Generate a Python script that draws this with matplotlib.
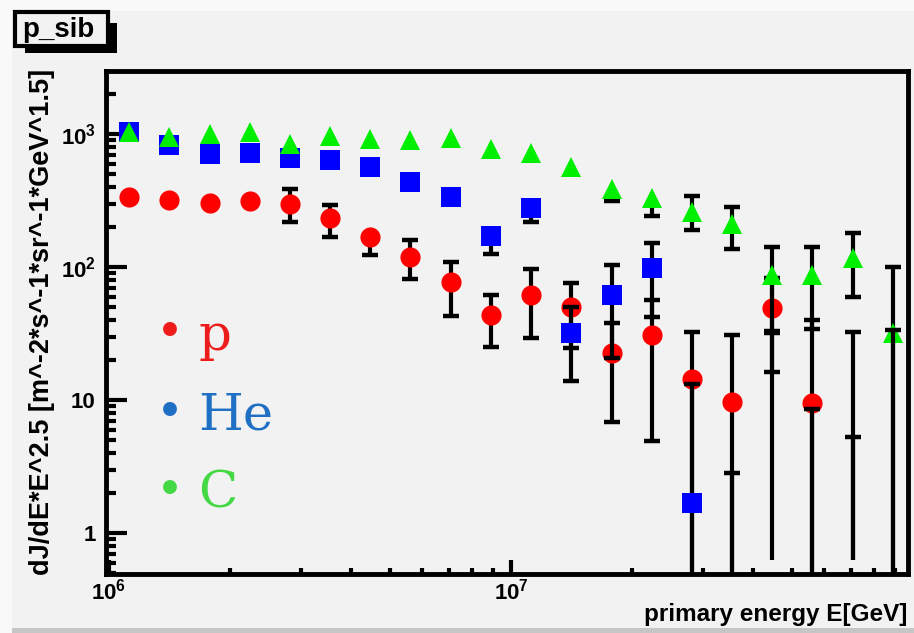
import numpy as np
import matplotlib.pyplot as plt
from matplotlib.patches import Rectangle
from matplotlib.ticker import LogLocator, NullFormatter

plt.rcParams['font.family'] = ['Liberation Sans', 'DejaVu Sans']
plt.rcParams['mathtext.fontset'] = 'custom'
plt.rcParams['mathtext.rm'] = 'Liberation Sans'
plt.rcParams['mathtext.bf'] = 'Liberation Sans:bold'

nan = np.nan

# bin centres, primary energy [GeV]
energy = [1.12e6, 1.41e6, 1.78e6, 2.24e6, 2.82e6, 3.55e6, 4.47e6, 5.62e6, 7.08e6, 8.91e6,
          1.12e7, 1.41e7, 1.78e7, 2.24e7, 2.82e7, 3.55e7, 4.47e7, 5.62e7, 7.08e7, 8.91e7]

# proton: flux and lower / upper end of the error bar (nan = no bar visible)
p_flux = [336, 319, 302, 313, 298, 233, 168, 119.5, 76.7, 43.6,
          61.6, 50.3, 22.4, 30.8, 14.3, 9.6, 49, 9.45, nan, nan]
p_low = [nan, nan, nan, nan, 217, 167, 123, 80.8, 43, 25.2,
         29.4, 24.5, 6.87, 4.94, 0, 0, 16.3, 0, nan, nan]
p_high = [nan, nan, nan, nan, 384, 292, nan, 161, 109.6, 61.6,
          96.6, 76.2, 38.1, 56.5, 32.6, 30.8, 82, 40, nan, nan]

# helium
he_flux = [1035, 827, 708, 716, 660, 638, 565, 435, 336, 171,
           279, 31.7, 61.6, 97.8, 1.67, nan, nan, nan, nan, nan]
he_low = [nan, nan, nan, nan, nan, nan, nan, nan, nan, 125,
          217, 14.0, 20.6, 41.9, 0, nan, nan, nan, nan, nan]
he_high = [nan, nan, nan, nan, nan, nan, nan, nan, nan, nan,
           nan, 50.3, 103.5, 150.7, 13.2, nan, nan, nan, nan, nan]

# carbon
c_flux = [1040, 955, 995, 1030, 837, 966, 917, 897, 938, 775,
          716, 565, 388, 332, 261, 211, 87.1, 87.1, 117, 32.1]
c_low = [nan, nan, nan, nan, nan, nan, nan, nan, nan, nan,
         nan, nan, 313, 243, 190, 136, 31.7, 34, 59.8, 0]
c_high = [nan, nan, nan, nan, nan, nan, nan, nan, nan, nan,
          nan, nan, nan, nan, 342, 284, 142, 142, 179, 99.5]

# error bars drawn without a visible marker
bare_energy = [3.55e7, 4.47e7, 5.62e7, 7.08e7, 7.08e7, 8.91e7]
bare_low = [0, 0.63, 0, 0.63, 0.63, 0]
bare_high = [2.81, 33, 8.5, 32.6, 5.3, 33.6]

legend_names = ['p', 'He', 'C']
legend_colors = ['#ef1c1c', '#1f70c4', '#45d845']

W, H = 914, 633


def draw_points(ax, x, val, low, high, marker, color, z):
    x = np.asarray(x, float)
    val = np.asarray(val, float)
    low = np.asarray(low, float)
    high = np.asarray(high, float)
    bar_lo = np.where(np.isnan(low), val, low)
    bar_hi = np.where(np.isnan(high), val, high)
    ok = ~np.isnan(bar_lo) & ~np.isnan(bar_hi) & (bar_hi > bar_lo)
    ax.vlines(x[ok], bar_lo[ok], bar_hi[ok], colors='k', lw=3, zorder=z)
    for ends in (low, high):
        ax.plot(x, ends, ls='none', marker='_', ms=11, mew=3.2, color='k', zorder=z)
    if marker is not None:
        ax.plot(x, val, ls='none', marker=marker, ms=14.5, color=color,
                mec=color, mew=0, zorder=z + 0.5)


fig = plt.figure(figsize=(W / 100, H / 100), dpi=100)
fig.patch.set_facecolor('#f2f2f2')

# canvas borders
fig.patches.append(Rectangle((0, 1 - 11 / H), 1, 11 / H, transform=fig.transFigure,
                             facecolor='#f9f9f9', edgecolor='none', zorder=0))
fig.patches.append(Rectangle((0, 0), 12 / W, 1, transform=fig.transFigure,
                             facecolor='#f9f9f9', edgecolor='none', zorder=0))
fig.patches.append(Rectangle((12 / W, 0), 1, 5 / H, transform=fig.transFigure,
                             facecolor='#c6c6c6', edgecolor='none', zorder=0))

ax = fig.add_axes([105.5 / W, 1 - 574 / H, (908 - 105.5) / W, (574 - 71) / H])
ax.set_facecolor('#f2f2f2')
ax.set_xscale('log')
ax.set_yscale('log')

draw_points(ax, energy, p_flux, p_low, p_high, 'o', '#ff0000', 3)
draw_points(ax, energy, he_flux, he_low, he_high, 's', '#0000ff', 4)
draw_points(ax, energy, c_flux, c_low, c_high, '^', '#00ee00', 5)

be = np.asarray(bare_energy)
ax.vlines(be, bare_low, bare_high, colors='k', lw=3, zorder=6)
ax.plot(be, bare_high, ls='none', marker='_', ms=11, mew=3.2, color='k', zorder=6)

ax.set_xlim(9.8e5, 9.72e7)
ax.set_ylim(0.492, 2978)

for s in ax.spines.values():
    s.set_linewidth(3.5)

ax.set_xticks([1e6, 1e7])
ax.set_xticklabels([r'$\mathbf{10^{6}}$', r'$\mathbf{10^{7}}$'])
ax.set_yticks([1, 10, 100, 1000])
ax.set_yticklabels(['1', '10', r'$\mathbf{10^{2}}$', r'$\mathbf{10^{3}}$'])
for axis in (ax.xaxis, ax.yaxis):
    axis.set_minor_locator(LogLocator(base=10, subs=np.arange(2, 10), numticks=20))
    axis.set_minor_formatter(NullFormatter())
ax.tick_params(which='both', direction='in', top=False, right=False, width=3)
ax.tick_params(axis='x', which='major', length=10, pad=3, labelsize=16)
ax.tick_params(axis='x', which='minor', length=4)
ax.tick_params(axis='y', which='major', length=15, pad=7, labelsize=16)
ax.tick_params(axis='y', which='minor', length=7)
for lab in ax.get_yticklabels() + ax.get_xticklabels():
    lab.set_fontweight('bold')

fig.text(907 / W, 1 - 614 / H, 'primary energy E[GeV]', ha='right', va='center',
         fontsize=17.5, fontweight='bold')
fig.text(42 / W, 1 - 322 / H, 'dJ/dE*E^2.5 [m^-2*s^-1*sr^-1*GeV^1.5]', rotation=90,
         ha='center', va='center', fontsize=19.5, fontweight='bold')

# title box with shadow
fig.patches.append(Rectangle((25 / W, 1 - 53 / H), 92 / W, 30 / H, transform=fig.transFigure,
                             facecolor='black', edgecolor='none', zorder=1))
fig.patches.append(Rectangle((15 / W, 1 - 46 / H), 93 / W, 34 / H, transform=fig.transFigure,
                             facecolor='#f2f2f2', edgecolor='black', lw=3, zorder=2))
fig.text(22 / W, 1 - 37 / H, 'p_sib', ha='left', va='baseline', fontsize=20,
         fontweight='bold', zorder=3)

# hand-made legend
legend_y = [350, 430, 508]
for name, col, yb in zip(legend_names, legend_colors, legend_y):
    fig.text(170 / W, 1 - (yb - 17) / H, '\u2022', color=col, fontsize=34,
             ha='center', va='center', family='DejaVu Serif')
    fig.text(198 / W, 1 - yb / H, name, color=col, fontsize=37, ha='left',
             va='baseline', family='DejaVu Serif')

fig.savefig('out.png', dpi=100, facecolor=fig.get_facecolor())
